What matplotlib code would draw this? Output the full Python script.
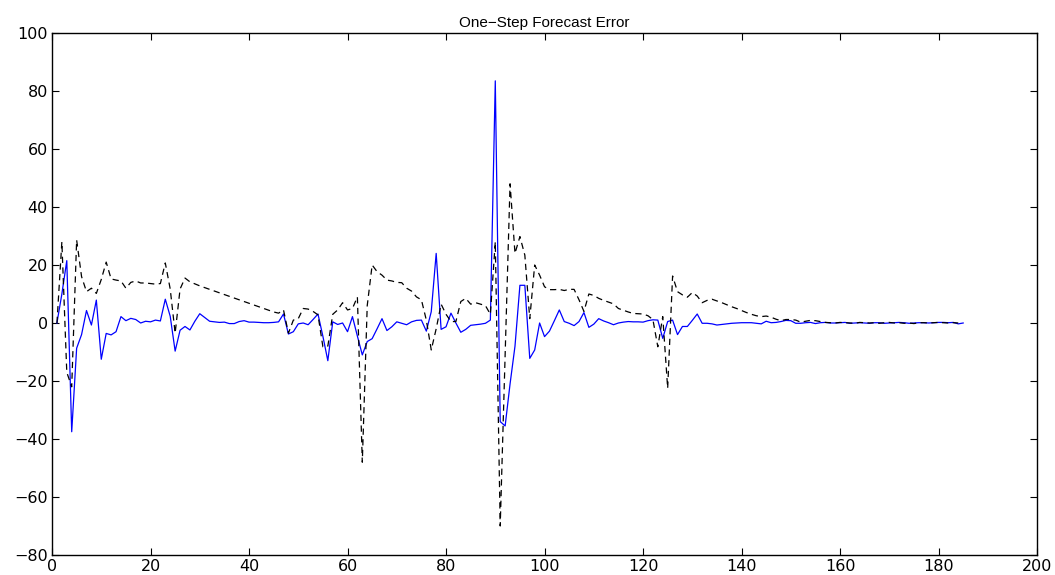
import numpy as np
import matplotlib
matplotlib.use('Agg')
import matplotlib.pyplot as plt

# one-step forecast errors (index 1..n)
err_blue = [
    0, 10, 21.5, -37.5, -8.7, -4, 4.3, -0.7, 7.9, -12.5,
    -3.6, -4.1, -3, 2.2, 0.8, 1.6, 1.2, 0, 0.6, 0.4,
    1, 0.7, 8.2, 2.3, -9.7, -2.5, -1.2, -2.4, 0.6, 3.2,
    1.9, 0.6, 0.4, 0.2, 0.3, -0.2, -0.2, 0.5, 0.8, 0.3,
    0.3, 0.2, 0.1, 0.1, 0.2, 0.4, 3.1, -3.8, -3, -0.3,
    0, -0.6, 1.2, 3.1, -4.6, -13, 0.4, -0.5, 0, -3,
    2.2, -4.5, -11, -6.4, -5.4, -2, 1.5, -2.6, -1.3, 0.4,
    -0.1, -0.6, 0.4, 0.9, 1, -2.8, 3.9, 24, -2.2, -1.3,
    3.4, 0, -3.2, -2.2, -0.8, -0.6, -0.4, -0.1, 1, 83.5,
    -34, -35.5, -21, -8, 13, 13, -12.2, -9.3, 0, -4.7,
    -2.8, 0.8, 4.5, 0.5, -0.1, -0.9, 0.5, 3.6, -1.5, -0.4,
    1.5, 0.7, 0.1, -0.6, 0, 0.3, 0.5, 0.4, 0.4, 0.3,
    0.8, 1.1, 1, -5.3, 0.5, 1, -4, -1.2, -1.2, 0.9,
    3.1, -0.1, -0.1, -0.3, -0.7, -0.5, -0.3, -0.1, 0, 0.1,
    0.1, 0.1, -0.1, -0.3, 0.6, 0.1, 0.2, 0.5, 0.9, 0.8,
    -0.1, -0.1, 0.1, 0.2, -0.2, 0.1, 0.2, 0, 0, 0.1,
    0.2, -0.1, 0, 0.1, 0, -0.1, 0.1, 0.1, -0.1, 0,
    0.1, 0.2, 0.1, -0.1, 0, 0.1, 0.1, 0, 0.1, 0.2,
    0.2, 0.1, 0.2, -0.3, 0,
]

err_dash = [
    0, 28, -17, -22, 28.6, 16, 10.8, 12, 10.2, 15,
    21, 15.2, 14.8, 14.5, 12, 14, 14.5, 13.8, 13.8, 13.6,
    13.4, 13.6, 20.7, 11.7, -3.5, 11.7, 15.5, 14.2, 13.5, 12.8,
    12.2, 11.6, 11, 10.4, 9.8, 9.2, 8.6, 8, 7.4, 6.8,
    6.2, 5.6, 5, 4.4, 3.8, 3.4, 4.5, -3.5, 1, 1.5,
    5, 4.8, 4, 2.8, -8.2, -8, 3, 4.5, 7, 4.5,
    5, 9, -48, 6, 20, 17.7, 16.5, 14.8, 14.5, 14,
    13.9, 12, 11, 9, 8, 1, -9.3, -2, 6.5, 3,
    0.5, 0.5, 7.4, 8.5, 6.5, 7, 6.5, 6, 3, 28,
    -70, -11, 48, 24, 29.8, 23.4, 1.5, 20, 16.5, 12.5,
    11.5, 11.5, 11.6, 11.2, 11.6, 11.6, 8, 4, 10, 9.5,
    8.5, 7.8, 7.2, 6.6, 5, 4.4, 3.8, 3.3, 3.2, 3.1,
    2.5, 1.2, -8.2, 2.2, -22.5, 16.2, 10.8, 9.7, 8.9, 10.5,
    9.3, 7, 7.8, 8.2, 7.6, 7, 6.3, 5.6, 5, 4.3,
    3.6, 3, 2.5, 2.2, 2.4, 2, 1.3, 0.8, 1.2, 1.2,
    1, 0.3, 0.6, 0.9, 0.8, 0.5, 0.2, 0.1, 0, 0.2,
    0.1, 0, -0.1, 0.2, 0.1, 0, 0.1, -0.1, 0.1, 0.2,
    0, 0.1, -0.1, 0, -0.2, 0.1, 0.1, 0, 0.1, 0.2,
    0.1, 0, 0.1, 0,
]

x_blue = np.arange(1, len(err_blue) + 1)
x_dash = np.arange(1, len(err_dash) + 1)

xticks = list(range(0, 201, 20))
yticks = list(range(-80, 101, 20))

plt.rcParams['font.family'] = ['Liberation Sans', 'DejaVu Sans']
plt.rcParams['lines.scale_dashes'] = False

fig = plt.figure(figsize=(10.55, 5.75), dpi=100)
ax = fig.add_axes([0.0493, 0.0348, 0.9337, 0.9078])

ax.plot(x_blue, err_blue, color='#0000ff', lw=0.9)
ax.plot(x_dash, err_dash, color='black', lw=0.9, dashes=(4.5, 3.2))

ax.set_xlim(0, 200)
ax.set_ylim(-80, 100)
ax.set_xticks(xticks)
ax.set_yticks(yticks)
ax.tick_params(direction='in', length=5, width=0.8, top=True, right=True, pad=3)
# the tick numbers in the original are wide; DejaVu is the closest
for lab in ax.get_xticklabels() + ax.get_yticklabels():
    lab.set_fontfamily('DejaVu Sans')
    lab.set_fontsize(11.5)
for s in ax.spines.values():
    s.set_linewidth(1.0)

ax.set_title('One\u2212Step Forecast Error', fontsize=11, pad=4)

fig.savefig('out.png', dpi=100)
